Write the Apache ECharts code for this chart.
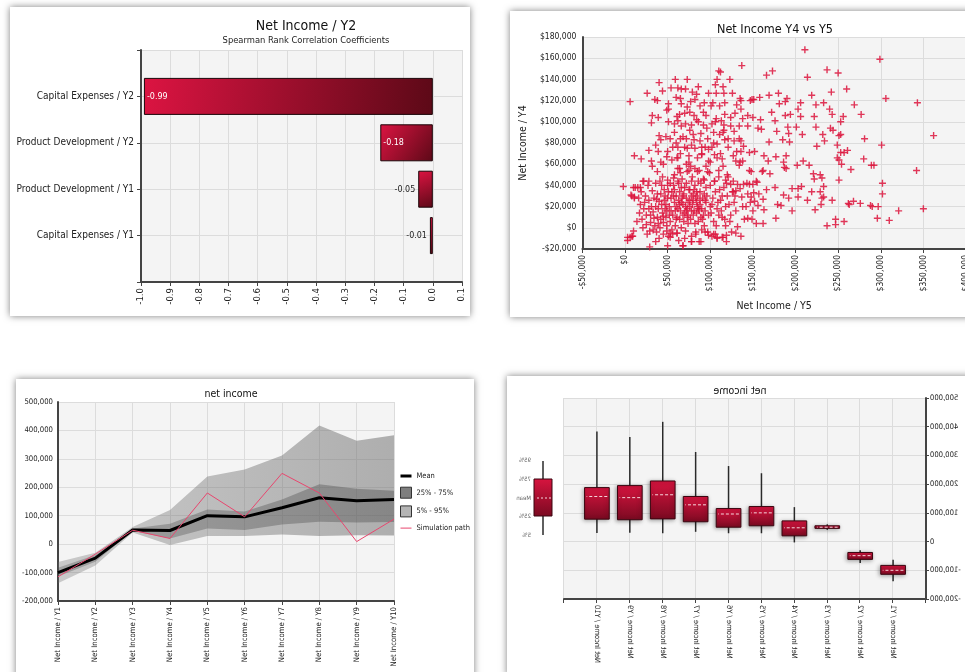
<!DOCTYPE html>
<html>
<head>
<meta charset="utf-8">
<title>Net Income dashboard</title>
<script src="https://cdn.jsdelivr.net/npm/echarts@6/dist/echarts.min.js"></script>
<style>
html, body { margin: 0; padding: 0; background: #fff; width: 965px; height: 672px; overflow: hidden; }
.card { position: absolute; background: #fff; box-shadow: 0 0 7px rgba(0, 0, 0, 0.5); }
#c1 { left: 10px; top: 7px; width: 460px; height: 309px; }
#c2 { left: 510px; top: 11px; width: 480px; height: 306px; }
#c3 { left: 16px; top: 379px; width: 458px; height: 300px; }
/* the last chart is shown mirrored */
#c4 { left: 507px; top: 376px; width: 480px; height: 300px; transform: scaleX(-1); }
</style>
</head>
<body>
<div id="c1" class="card"></div>
<div id="c2" class="card"></div>
<div id="c3" class="card"></div>
<div id="c4" class="card"></div>
<script>
const FONT = "'DejaVu Sans Condensed', 'DejaVu Sans', sans-serif";

// tornado: rank correlation
const corrNames = ['Capital Expenses / Y2', 'Product Development / Y2', 'Product Development / Y1', 'Capital Expenses / Y1'];
const corrValues = [-0.99, -0.18, -0.05, -0.01];

// net income per year (percentiles, mean, one simulation path)
const periods = ['Net Income / Y1', 'Net Income / Y2', 'Net Income / Y3', 'Net Income / Y4', 'Net Income / Y5',
    'Net Income / Y6', 'Net Income / Y7', 'Net Income / Y8', 'Net Income / Y9', 'Net Income / Y10'];
const p5 = [-138000, -75000, 41000, -3000, 29000, 29000, 34000, 29000, 31000, 30000];
const p25 = [-114000, -62000, 46000, 20000, 55000, 50000, 69000, 79000, 76000, 78000];
const meanVals = [-100000, -49000, 50000, 48000, 100000, 96000, 128000, 163000, 153000, 157000];
const p75 = [-83000, -38000, 55000, 72000, 122000, 115000, 157000, 211000, 195000, 188000];
const p95 = [-63000, -30000, 60000, 120000, 238000, 263000, 312000, 417000, 364000, 383000];
const simPath = [-115000, -35000, 49000, 20000, 180000, 96000, 249000, 180000, 9000, 88000];

// scatter Y5 (x) vs Y4 (y), in thousands of $
const scatterK = [
    [211,168],[299,159],[137,153],[173,148],[166,144],[214,142],[237,149],[250,146],[260,131],[242,128],[219,125],[169,125],
    [180,127],[158,123],[190,122],[188,119],[306,122],[343,118],[269,116],[206,118],[233,118],[224,116],[181,117],[203,112],
    [240,112],[172,109],[277,107],[243,107],[222,105],[256,105],[188,106],[194,107],[206,105],[159,102],[176,101],[253,100],
    [191,95],[224,95],[201,95],[241,94],[160,93],[244,92],[362,87],[178,91],[208,88],[251,87],[253,88],[192,89],[232,88],
    [234,82],[281,84],[169,81],[185,83],[193,81],[301,78],[225,77],[249,78],[261,73],[257,71],[253,71],[189,68],[163,68],
    [177,67],[168,63],[249,66],[251,64],[280,65],[209,63],[186,62],[202,59],[216,59],[254,60],[289,59],[292,59],[187,57],
    [189,56],[265,55],[342,54],[162,54],[170,51],[221,51],[229,50],[222,46],[231,47],[251,45],[302,42],[233,39],[166,36],
    [207,39],[196,37],[203,37],[176,38],[302,32],[186,31],[192,28],[203,29],[219,34],[229,34],[231,28],[214,26],[243,26],
    [268,25],[262,23],[263,22],[276,23],[288,21],[290,20],[297,20],[321,16],[350,18],[230,22],[223,17],[196,16],[179,22],
    [183,21],[177,9],[247,8],[296,9],[310,7],[237,2],[247,3],[257,6],[162,4],[154,4],[233,29],
    [108,140],[110,148],[112,147],[123,140],[106,135],[115,133],[107,127],[116,127],[126,127],[98,127],[135,122],[136,120],
    [147,120],[149,121],[151,121],[103,118],[101,115],[111,115],[117,118],[131,116],[136,112],[144,106],[150,104],[138,103],
    [129,108],[124,104],[117,107],[113,101],[107,103],[102,98],[116,97],[124,96],[134,96],[144,96],[156,94],[128,91],
    [104,90],[115,90],[111,88],[121,84],[128,82],[136,82],[134,84],[108,79],[117,83],[102,76],[121,76],[139,77],[131,72],
    [136,72],[146,71],[152,72],[127,68],[134,59],[130,63],[135,62],[138,63],[148,53],[146,54],[161,53],[154,44],[155,43],
    [143,42],[150,41],[146,41],[139,41],[132,41],[135,37],[127,34],[130,35],[137,29],[144,32],[151,33],[148,29],[157,32],
    [162,27],[152,25],[147,24],[142,20],[138,20],[156,21],[163,17],[150,16],[144,9],[149,8],[140,8],[132,1],[136,-8],
    [130,-5],[119,-13],[115,-9],[108,-10],[104,-6],[98,-7],[94,-4],[89,-13],[78,-13],[68,-17],[50,-17],[29,-18],[36,-13],
    [3,-12],[6,-9],[8,-8],[10,-3],[-2,39],[6,119],
    [59,140],[73,140],[40,137],[54,132],[62,132],[66,131],[71,131],[86,133],[26,127],[44,129],[79,128],[84,126],[35,121],
    [38,120],[60,123],[65,122],[77,119],[82,121],[51,117],[51,112],[49,111],[66,117],[73,114],[88,115],[93,118],[32,106],
    [39,104],[61,105],[64,107],[70,108],[76,109],[81,106],[92,109],[95,106],[31,99],[51,100],[58,98],[62,101],[71,98],
    [78,97],[84,102],[92,97],[40,87],[42,83],[48,86],[53,84],[65,84],[72,84],[81,83],[89,89],[97,84],[36,78],[56,76],
    [62,76],[73,75],[82,75],[90,76],[94,76],[39,72],[28,73],[11,68],[19,65],[31,63],[42,62],[49,67],[61,66],[75,68],
    [90,69],[105,69],[98,63],[114,65],[32,58],[38,53],[64,56],[73,53],[85,53],[97,53],[110,54],[120,50],[21,44],[28,44],
    [50,45],[57,47],[63,42],[78,44],[93,45],[105,44],[118,45],[124,41],[15,38],[12,38],[8,30],[11,29],
    [18,22],[22,18],[25,12],[28,26],[30,5],[32,35],[20,8],[24,30],[27,40],[33,15],[35,2],[29,-3],[21,0],[17,14],[31,20],
    [26,-6],[34,28],[23,24],[19,34],[36,42],[30,12],[25,3],[33,-2],[28,18],[16,28],[22,44],[14,6],[34,9],
    [38,10],[40,25],[42,32],[45,5],[47,18],[50,40],[52,12],[54,28],[37,-4],[41,0],[44,14],[46,36],[48,22],[51,-8],[53,6],
    [55,34],[39,18],[43,40],[49,2],[40,-10],[45,-6],[52,20],[47,30],[38,32],[44,48],[50,28],[54,16],[36,20],[42,8],[48,10],
    [55,-2],[41,44],[53,42],[46,26],[39,4],[51,34],[43,22],[49,16],[37,27],[45,11],[53,-5],
    [56,12],[58,24],[60,30],[62,18],[64,8],[66,38],[68,22],[70,14],[72,28],[74,4],[57,40],[59,2],[61,-5],[63,26],[65,16],
    [67,46],[69,32],[71,20],[73,10],[75,36],[56,-6],[58,50],[62,44],[66,0],[70,-10],[72,42],[60,20],[64,34],[68,12],[74,24],
    [57,30],[61,10],[65,52],[69,6],[73,18],[59,16],[63,-12],[67,28],[71,-3],[75,54],[58,36],[66,24],[70,38],[62,56],[74,12],
    [60,8],[64,22],[68,30],[72,16],[76,26],
    [76,20],[78,30],[80,12],[82,40],[84,24],[86,6],[88,34],[90,18],[92,46],[94,26],[77,8],[79,48],[81,16],[83,-4],[85,30],
    [87,54],[89,10],[91,28],[93,2],[95,38],[76,36],[80,26],[84,14],[88,22],[92,12],[78,-8],[82,4],[86,44],[90,-2],[94,16],
    [77,58],[81,36],[85,20],[89,42],[93,32],[79,22],[83,28],[87,16],[91,8],[95,24],[80,32],[84,34],[88,26],[78,16],[86,18],
    [96,30],[98,12],[100,40],[102,22],[104,6],[106,34],[108,18],[110,48],[112,26],[114,10],[116,38],[118,20],[120,30],
    [97,-4],[99,52],[101,14],[103,28],[105,44],[107,2],[109,24],[111,36],[113,16],[115,58],[117,8],[119,42],[100,20],
    [106,-6],[110,12],[114,30],[118,2],[122,22],[124,12],[126,34],[128,24],[130,16],[121,48],[123,6],[125,-4],[127,44],[129,30],
    [53,-9],[68,-17],[78,-13],[87,-13],[102,-8],[108,-9],[114,-9],[119,-7],[83,-6],[61,-5],[49,-3],
    [45,60],[55,64],[65,70],[75,62],[85,66],[95,58],[50,72],[60,80],[70,76],[80,88],[90,70],[100,62],[58,90],[68,86],
    [78,78],[88,82],[98,74],[108,66],[62,66],[72,60],[82,56],[104,80],[112,70],[76,92],[66,96],[86,100],[96,94],[106,100],
    [116,92],[10,38],[18,38],[7,31],[11,28],[3,-9],[9,-8]
];

const AXIS_DARK = '#444';
const GRID_LINE = '#dcdcdc';
const PLOT_BG = '#f4f4f4';
const PLUS = 'path://M4,0 L6,0 L6,4 L10,4 L10,6 L6,6 L6,10 L4,10 L4,6 L0,6 L0,4 L4,4 Z';

function thousands(v) {
    return v.toLocaleString('en-US');
}
function dollars(v) {
    return (v < 0 ? '-$' : '$') + Math.abs(v).toLocaleString('en-US');
}

// ---- chart 1: tornado ----
const barGrad = new echarts.graphic.LinearGradient(0, 0, 1, 1, [
    { offset: 0, color: '#dc1442' },
    { offset: 1, color: '#5c0917' }
]);
const chart1 = echarts.init(document.getElementById('c1'));
chart1.setOption({
    animation: false,
    textStyle: { fontFamily: FONT },
    title: {
        text: 'Net Income / Y2',
        subtext: 'Spearman Rank Correlation Coefficients',
        left: 291, textAlign: 'center', top: 7, itemGap: 3,
        textStyle: { fontSize: 14, fontWeight: 'normal', color: '#111', fontFamily: FONT },
        subtextStyle: { fontSize: 9.3, color: '#222', fontFamily: FONT }
    },
    grid: { left: 131, right: 8, top: 43, bottom: 34, show: true, backgroundColor: PLOT_BG, borderWidth: 0 },
    xAxis: {
        type: 'value', min: -1, max: 0.1, interval: 0.1,
        axisLine: { show: true, onZero: false, lineStyle: { color: AXIS_DARK, width: 2 } },
        axisTick: { show: true, length: 4, lineStyle: { color: AXIS_DARK } },
        axisLabel: { rotate: 90, fontSize: 9.5, color: '#222', margin: 6, formatter: v => v.toFixed(1) },
        splitLine: { lineStyle: { color: GRID_LINE } }
    },
    yAxis: {
        type: 'category', inverse: true, boundaryGap: false,
        data: [''].concat(corrNames, [' ']),
        axisLine: { show: true, onZero: false, lineStyle: { color: AXIS_DARK, width: 2 } },
        axisTick: { show: true, length: 4, lineStyle: { color: AXIS_DARK } },
        axisLabel: { fontSize: 10, color: '#222', margin: 7 },
        splitLine: { show: true, lineStyle: { color: GRID_LINE } }
    },
    series: [{
        type: 'bar',
        barWidth: 37,
        data: corrValues.map((v, i) => ({
            value: [v, corrNames[i]],
            label: Math.abs(v) > 0.1
                ? { show: true, position: 'insideLeft', distance: 3, color: '#fff' }
                : { show: true, position: 'left', distance: 3, color: '#222' }
        })),
        label: { fontSize: 8.9, fontFamily: FONT, formatter: p => p.value[0] },
        itemStyle: { color: barGrad, borderColor: '#1a0508', borderWidth: 1 }
    }]
});

// ---- chart 2: scatter ----
const chart2 = echarts.init(document.getElementById('c2'));
chart2.setOption({
    animation: false,
    textStyle: { fontFamily: FONT },
    title: {
        text: 'Net Income Y4 vs Y5', left: 260, textAlign: 'center', top: 7,
        textStyle: { fontSize: 12.5, fontWeight: 'normal', color: '#111', fontFamily: FONT }
    },
    grid: { left: 64, right: 24, top: 26, bottom: 65, show: true, backgroundColor: PLOT_BG, borderWidth: 0 },
    xAxis: {
        type: 'value', min: -50000, max: 400000, interval: 50000,
        name: 'Net Income / Y5', nameLocation: 'middle', nameGap: 52,
        nameTextStyle: { fontSize: 10.5, color: '#222' },
        axisLine: { show: true, onZero: false, lineStyle: { color: AXIS_DARK, width: 2 } },
        axisTick: { show: true, length: 4, lineStyle: { color: AXIS_DARK } },
        axisLabel: { rotate: 90, fontSize: 8.5, color: '#222', margin: 6, formatter: dollars },
        splitLine: { lineStyle: { color: GRID_LINE } }
    },
    yAxis: {
        type: 'value', min: -20000, max: 180000, interval: 20000,
        name: 'Net Income / Y4', nameLocation: 'middle', nameGap: 50,
        nameTextStyle: { fontSize: 10.5, color: '#222' },
        axisLine: { show: true, onZero: false, lineStyle: { color: AXIS_DARK, width: 2 } },
        axisTick: { show: false },
        axisLabel: { fontSize: 8.5, color: '#222', margin: 6, formatter: dollars },
        splitLine: { lineStyle: { color: GRID_LINE } }
    },
    series: [{
        type: 'scatter',
        symbol: PLUS,
        symbolSize: 7,
        itemStyle: { color: '#dc143c', opacity: 0.85 },
        data: scatterK.map(p => [p[0] * 1000, p[1] * 1000])
    }]
});

// ---- chart 3: fan chart ----
const outerGrad = new echarts.graphic.LinearGradient(0, 0, 1, 0, [
    { offset: 0, color: 'rgba(110,110,110,0.32)' },
    { offset: 1, color: 'rgba(110,110,110,0.52)' }
]);
const innerGrad = new echarts.graphic.LinearGradient(0, 0, 1, 0, [
    { offset: 0, color: 'rgba(70,70,70,0.30)' },
    { offset: 1, color: 'rgba(70,70,70,0.38)' }
]);
const chart3 = echarts.init(document.getElementById('c3'));
const bandLine = { width: 0, opacity: 0 };
chart3.setOption({
    animation: false,
    textStyle: { fontFamily: FONT },
    title: {
        text: 'net income', left: 210, textAlign: 'center', top: 5,
        textStyle: { fontSize: 10.5, fontWeight: 'normal', color: '#111', fontFamily: FONT }
    },
    legend: {
        orient: 'vertical', left: 379, top: 88, itemWidth: 11, itemHeight: 11, itemGap: 6.7,
        textStyle: { fontSize: 7.5, color: '#222', fontFamily: FONT },
        data: [
            { name: 'Mean', icon: 'path://M0,0 L11,0 L11,3 L0,3 Z', itemStyle: { color: '#000', borderWidth: 0 } },
            { name: '25% - 75%', icon: 'rect', itemStyle: { color: '#7e7e7e', borderColor: '#333', borderWidth: 1 } },
            { name: '5% - 95%', icon: 'rect', itemStyle: { color: '#b4b4b4', borderColor: '#333', borderWidth: 1 } },
            { name: 'Simulation path', icon: 'path://M0,0 L11,0 L11,1 L0,1 Z', itemStyle: { color: '#e8466e', borderWidth: 0 } }
        ]
    },
    grid: { left: 42, right: 80, top: 23, bottom: 78, show: true, backgroundColor: PLOT_BG, borderWidth: 0 },
    xAxis: {
        type: 'category', boundaryGap: false, data: periods,
        axisLine: { show: true, onZero: false, lineStyle: { color: AXIS_DARK, width: 2 } },
        axisTick: { show: true, length: 4, lineStyle: { color: AXIS_DARK } },
        axisLabel: { rotate: 90, fontSize: 7.7, color: '#222', margin: 6 },
        splitLine: { show: true, lineStyle: { color: GRID_LINE } }
    },
    yAxis: {
        type: 'value', min: -200000, max: 500000, interval: 100000,
        axisLine: { show: true, onZero: false, lineStyle: { color: AXIS_DARK, width: 2 } },
        axisTick: { show: false },
        axisLabel: { fontSize: 7.7, color: '#222', margin: 5, formatter: thousands },
        splitLine: { lineStyle: { color: GRID_LINE } }
    },
    series: [
        { name: 'base5', type: 'line', stack: 'outer', stackStrategy: 'all', symbol: 'none', lineStyle: bandLine, data: p5 },
        { name: '5% - 95%', type: 'line', stack: 'outer', stackStrategy: 'all', symbol: 'none', lineStyle: bandLine,
          areaStyle: { color: outerGrad, opacity: 1 }, data: p95.map((v, i) => v - p5[i]) },
        { name: 'base25', type: 'line', stack: 'inner', stackStrategy: 'all', symbol: 'none', lineStyle: bandLine, data: p25 },
        { name: '25% - 75%', type: 'line', stack: 'inner', stackStrategy: 'all', symbol: 'none', lineStyle: bandLine,
          areaStyle: { color: innerGrad, opacity: 1 }, data: p75.map((v, i) => v - p25[i]) },
        { name: 'Mean', type: 'line', symbol: 'none', itemStyle: { color: '#000' }, lineStyle: { color: '#000', width: 3 }, data: meanVals },
        { name: 'Simulation path', type: 'line', symbol: 'none', itemStyle: { color: '#e8466e' }, lineStyle: { color: '#e8466e', width: 1 }, data: simPath }
    ]
});

// ---- chart 4: box plot (drawn normally, the card is mirrored by css) ----
const boxGrad = new echarts.graphic.LinearGradient(0, 0, 0, 1, [
    { offset: 0, color: '#d7143f' },
    { offset: 1, color: '#7a0a21' }
]);
function renderBox(params, api) {
    const x = api.value(0);
    const lo = api.coord([x, api.value(1)]);
    const q1 = api.coord([x, api.value(2)]);
    const mid = api.coord([x, api.value(3)]);
    const q3 = api.coord([x, api.value(4)]);
    const hi = api.coord([x, api.value(5)]);
    const w = api.size([1, 0])[0] * 0.75;
    return {
        type: 'group',
        children: [
            { type: 'line', shape: { x1: lo[0], y1: lo[1], x2: hi[0], y2: hi[1] }, style: { stroke: '#2a2a2a', lineWidth: 1.5 } },
            { type: 'rect', shape: { x: q3[0] - w / 2, y: q3[1], width: w, height: Math.max(q1[1] - q3[1], 1) },
              style: { fill: boxGrad, stroke: '#3a0610', lineWidth: 1, shadowBlur: 4, shadowColor: 'rgba(0,0,0,0.35)', shadowOffsetX: 1, shadowOffsetY: 1 } },
            { type: 'line', shape: { x1: mid[0] - w / 2 + 2, y1: mid[1], x2: mid[0] + w / 2 - 2, y2: mid[1] },
              style: { stroke: '#f6d6dc', lineWidth: 1, lineDash: [3, 2] } }
        ]
    };
}
const legendText = (txt, y) => ({ type: 'text', left: 456, top: y - 4, style: { text: txt, fontSize: 6, fill: '#666', fontFamily: FONT } });
const chart4 = echarts.init(document.getElementById('c4'));
chart4.setOption({
    animation: false,
    textStyle: { fontFamily: FONT },
    title: {
        text: 'net income', left: 242, textAlign: 'center', top: 5,
        textStyle: { fontSize: 10.5, fontWeight: 'normal', color: '#111', fontFamily: FONT }
    },
    grid: { left: 61, right: 57, top: 22, bottom: 77, show: true, backgroundColor: PLOT_BG, borderWidth: 0 },
    xAxis: {
        type: 'category', boundaryGap: false, data: [''].concat(periods, [' ']),
        axisLine: { show: true, onZero: false, lineStyle: { color: AXIS_DARK, width: 2 } },
        axisTick: { show: true, length: 4, lineStyle: { color: AXIS_DARK } },
        axisLabel: { rotate: 90, fontSize: 7.5, color: '#222', margin: 6, interval: 0 },
        splitLine: { show: true, lineStyle: { color: GRID_LINE } }
    },
    yAxis: {
        type: 'value', min: -200000, max: 500000, interval: 100000,
        axisLine: { show: true, onZero: false, lineStyle: { color: AXIS_DARK, width: 2 } },
        axisTick: { show: true, length: 3, lineStyle: { color: AXIS_DARK } },
        axisLabel: { fontSize: 7.6, color: '#222', margin: 4, formatter: thousands },
        splitLine: { lineStyle: { color: GRID_LINE } }
    },
    graphic: [
        { type: 'line', shape: { x1: 444, y1: 85, x2: 444, y2: 159 }, style: { stroke: '#2a2a2a', lineWidth: 1.5 } },
        { type: 'rect', shape: { x: 435, y: 103, width: 18, height: 37 }, style: { fill: boxGrad, stroke: '#3a0610', lineWidth: 1 } },
        { type: 'line', shape: { x1: 436, y1: 122, x2: 452, y2: 122 }, style: { stroke: '#f6d6dc', lineWidth: 1, lineDash: [2, 2] } },
        legendText('95%', 85), legendText('75%', 104), legendText('Mean', 123), legendText('25%', 141), legendText('5%', 160)
    ],
    series: [{
        type: 'custom',
        renderItem: renderBox,
        encode: { x: 0, y: [1, 2, 3, 4, 5] },
        data: periods.map((n, i) => [n, p5[i], p25[i], meanVals[i], p75[i], p95[i]])
    }]
});
</script>
</body>
</html>
